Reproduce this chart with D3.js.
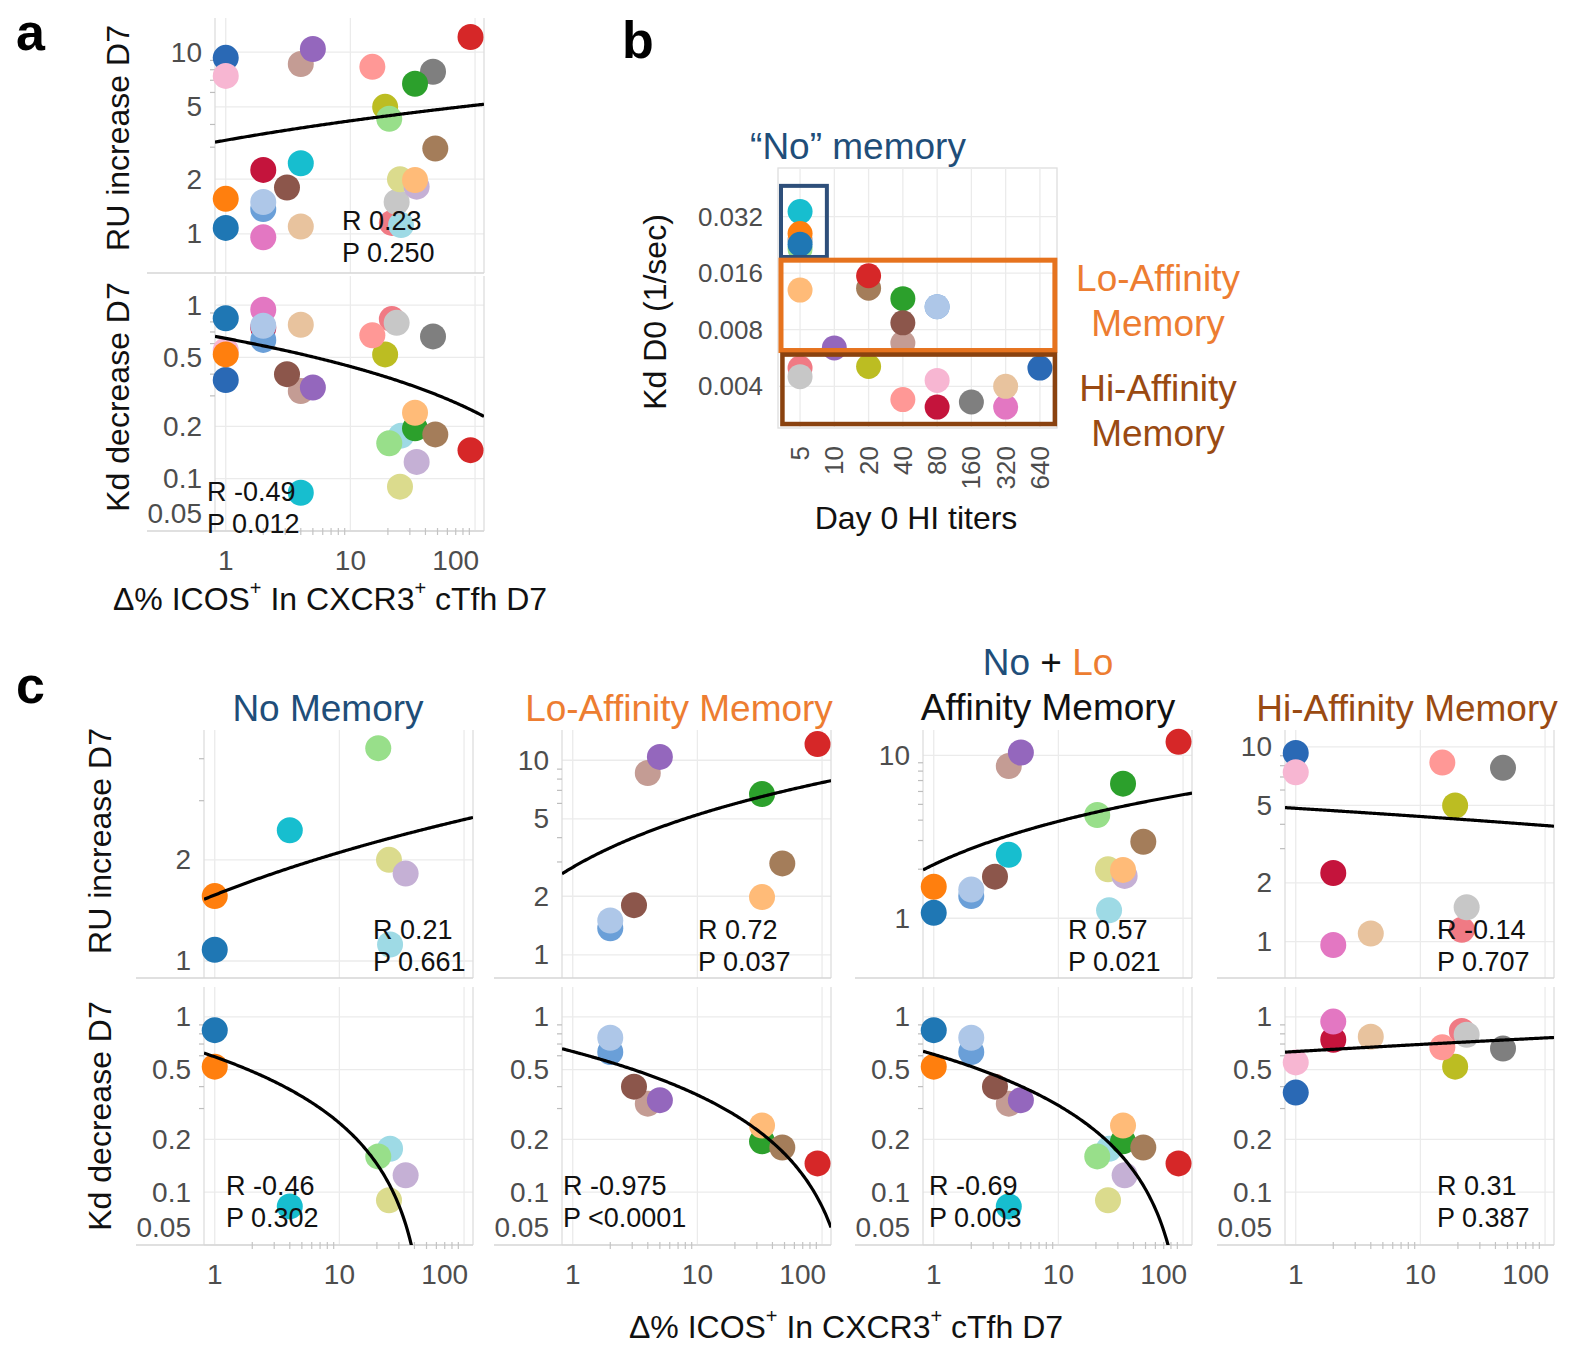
<!DOCTYPE html>
<html>
<head>
<meta charset="utf-8">
<script src="https://cdn.jsdelivr.net/npm/d3@7"></script>
<style>
  body { margin: 0; background: #fff; }
  text { font-family: "Liberation Sans", Arial, sans-serif; }
</style>
</head>
<body>
<div id="plot"></div>
<script>
// Donors, listed in drawing order (later ones sit on top)
const donors      = ["gray","olive","coral","lightcyan","lightgray","khaki","lavender","lightgreen","green","lightorange","tan","red","salmon","hiblue","pink","pinkbrown","purple","brown","crimson","magenta","medblue","lightblue","beige","cyan","orange","blue"];
const donorColors = ["#7f7f7f","#bcbd22","#f07a84","#9edae5","#c7c7c7","#dbdb8d","#c5b0d5","#98df8a","#2ca02c","#ffbb78","#a47d5a","#d62728","#ff9896","#2a69b5","#f7b6d2","#c49c94","#9467bd","#8c564b","#c4143c","#e377c2","#6a9fd8","#aec7e8","#e8c39e","#17becf","#ff7f0e","#1f77b4"];
const memoryGroup = ["Hi","Hi","Hi","No","Hi","No","No","No","Lo","Lo","Lo","Lo","Hi","Hi","Hi","Lo","Lo","Lo","Hi","Hi","Lo","Lo","Hi","No","No","No"];
const icosDelta   = [46, 19, 21.5, 25.5, 23.5, 25, 34, 20.5, 33, 33, 48, 92, 15, 1, 1, 4, 5, 3.1, 2, 2, 2, 2, 4, 4, 1, 1];
const ruIncrease  = [7.8, 5.0, 1.15, 1.12, 1.5, 2.0, 1.82, 4.3, 6.7, 1.98, 2.95, 12.1, 8.3, 9.3, 7.4, 8.6, 10.4, 1.8, 2.25, 0.96, 1.37, 1.5, 1.1, 2.45, 1.56, 1.08];
const kdDecrease  = [0.66, 0.52, 0.83, 0.177, 0.79, 0.09, 0.125, 0.16, 0.195, 0.24, 0.18, 0.146, 0.67, 0.37, 0.55, 0.32, 0.335, 0.40, 0.74, 0.94, 0.63, 0.76, 0.77, 0.083, 0.52, 0.84];
const kdDay0      = [0.0033, 0.0051, 0.0050, 0.024, 0.0045, 0.024, 0.024, 0.0215, 0.0117, 0.013, 0.0133, 0.0155, 0.0034, 0.0050, 0.0043, 0.0068, 0.0064, 0.0087, 0.0031, 0.0031, 0.0106, 0.0106, 0.0040, 0.034, 0.026, 0.0228];
const hiTiter     = [160, 20, 5, 5, 5, 5, 5, 5, 40, 5, 20, 20, 40, 640, 80, 40, 10, 40, 80, 320, 80, 80, 320, 5, 5, 5];

// Tick labels
const xTicks      = [1, 10, 100];
const ruTicksAll  = [1, 2, 5, 10];
const kdTicks     = [0.05, 0.1, 0.2, 0.5, 1];
const titerTicks  = [5, 10, 20, 40, 80, 160, 320, 640];
const kd0Ticks    = [0.004, 0.008, 0.016, 0.032];

// Correlation labels
const statsA = { ru: ["R 0.23", "P 0.250"], kd: ["R -0.49", "P 0.012"] };
const statsC = {
  ru: [["R 0.21","P 0.661"], ["R 0.72","P 0.037"], ["R 0.57","P 0.021"], ["R -0.14","P 0.707"]],
  kd: [["R -0.46","P 0.302"], ["R -0.975","P <0.0001"], ["R -0.69","P 0.003"], ["R 0.31","P 0.387"]]
};

const NAVY = "#1f4e79", ORANGE = "#ed7d31", BROWN = "#9a4a12";
const TICK_COL = "#4d4d4d", GRID = "#ebebeb", FRAME = "#dedede";

const svg = d3.select("#plot").append("svg")
  .attr("width", 1575).attr("height", 1348);
svg.append("rect").attr("width", 1575).attr("height", 1348).attr("fill", "#fff");

const allIdx = d3.range(donors.length);
let clipId = 0;

// least squares fit of y on log10(x)
function fitLogX(idx, yVals) {
  const u = idx.map(i => Math.log10(icosDelta[i]));
  const v = idx.map(i => yVals[i]);
  const mu = d3.mean(u), mv = d3.mean(v);
  let sxy = 0, sxx = 0;
  u.forEach((d, k) => { sxy += (d - mu) * (v[k] - mv); sxx += (d - mu) * (d - mu); });
  const b = sxy / sxx;
  return { a: mv - b * mu, b: b };
}

function facet(o) {
  const g = svg.append("g");
  const x = d3.scaleLog().domain([0.82, 118]).range([o.x0, o.x0 + 269]);
  const y = d3.scaleLog().domain(o.yDomain).range([o.y1, o.y0]);
  const x1 = o.x0 + 269;

  const cid = "clip" + (clipId++);
  g.append("clipPath").attr("id", cid).append("rect")
    .attr("x", o.x0).attr("y", o.y0).attr("width", 269).attr("height", o.y1 - o.y0);

  // grid
  g.selectAll(".vg").data(xTicks).join("line")
    .attr("x1", d => x(d)).attr("x2", d => x(d)).attr("y1", o.y0).attr("y2", o.y1)
    .attr("stroke", GRID).attr("stroke-width", 1.3);
  g.selectAll(".hg").data(o.yTicks).join("line")
    .attr("x1", o.x0).attr("x2", x1).attr("y1", d => y(d)).attr("y2", d => y(d))
    .attr("stroke", GRID).attr("stroke-width", 1.3);
  // frame
  g.append("line").attr("x1", o.x0).attr("x2", o.x0).attr("y1", o.y0).attr("y2", o.y1)
    .attr("stroke", FRAME).attr("stroke-width", 1.3);
  g.append("line").attr("x1", x1).attr("x2", x1).attr("y1", o.y0).attr("y2", o.y1)
    .attr("stroke", FRAME).attr("stroke-width", 1.3);
  g.append("line").attr("x1", o.x0 - 68).attr("x2", x1).attr("y1", o.y1).attr("y2", o.y1)
    .attr("stroke", "#d6d6d6").attr("stroke-width", 1.5);

  // minor log ticks on y
  g.selectAll(".my").data(o.yMinor).join("line")
    .attr("x1", o.x0 - 5).attr("x2", o.x0).attr("y1", d => y(d)).attr("y2", d => y(d))
    .attr("stroke", "#bdbdbd").attr("stroke-width", 1.2);

  // y tick labels
  g.selectAll(".yl").data(o.yTicks).join("text")
    .attr("x", o.x0 - 13)
    .attr("y", d => y(d) - (d === 0.05 ? 18 : 0))
    .attr("text-anchor", "end").attr("dominant-baseline", "central")
    .attr("font-size", 28).attr("fill", TICK_COL)
    .text(d => d);

  if (o.xAxis) {
    const minor = [];
    [1, 10].forEach(dec => d3.range(2, 10).forEach(m => minor.push(dec * m)));
    g.selectAll(".mx").data(minor).join("line")
      .attr("x1", d => x(d)).attr("x2", d => x(d)).attr("y1", o.y1 - 3).attr("y2", o.y1 + 4)
      .attr("stroke", "#c4c4c4").attr("stroke-width", 1.2);
    g.selectAll(".xl").data(xTicks).join("text")
      .attr("x", d => d === 100 ? x(d) + 4 : x(d))
      .attr("y", o.y1 + 39)
      .attr("text-anchor", d => d === 100 ? "end" : "middle")
      .attr("font-size", 28).attr("fill", TICK_COL)
      .text(d => d);
  }

  // points
  g.selectAll(".pt").data(o.idx).join("circle")
    .attr("cx", i => x(icosDelta[i]))
    .attr("cy", i => y(o.yVals[i]))
    .attr("r", 13)
    .attr("fill", i => donorColors[i]);

  // fit line
  const fit = fitLogX(o.idx, o.yVals);
  const xs = d3.range(0, 201).map(k => 0.82 * Math.pow(118 / 0.82, k / 200));
  const pts = xs.map(v => [v, fit.a + fit.b * Math.log10(v)]).filter(p => p[1] > 0.01);
  g.append("path")
    .attr("clip-path", `url(#${cid})`)
    .attr("d", d3.line().x(p => x(p[0])).y(p => y(p[1]))(pts))
    .attr("fill", "none").attr("stroke", "#000").attr("stroke-width", 3.2);

  // stats
  g.append("text").attr("x", o.statX).attr("y", o.statY)
    .attr("font-size", 27).attr("fill", "#111").text(o.stats[0]);
  g.append("text").attr("x", o.statX).attr("y", o.statY + 32)
    .attr("font-size", 27).attr("fill", "#111").text(o.stats[1]);
}

function axisTitle(x, y, rotate) {
  const t = svg.append("text").attr("font-size", 32).attr("fill", "#111")
    .attr("text-anchor", "middle").attr("dominant-baseline", "central");
  if (rotate) t.attr("transform", `translate(${x},${y}) rotate(-90)`);
  else t.attr("x", x).attr("y", y);
  return t;
}

function icosTitle(x, y) {
  const t = axisTitle(x, y, false);
  t.append("tspan").text("Δ% ICOS");
  t.append("tspan").attr("font-size", 20).attr("dy", -11).text("+");
  t.append("tspan").attr("dy", 11).text(" In CXCR3");
  t.append("tspan").attr("font-size", 20).attr("dy", -11).text("+");
  t.append("tspan").attr("dy", 11).text(" cTfh D7");
}

function panelLetter(s, x, y) {
  svg.append("text").attr("x", x).attr("y", y).attr("font-size", 52)
    .attr("font-weight", "bold").attr("fill", "#000").text(s);
}

// ---------- panel a ----------
panelLetter("a", 16, 50);
facet({ x0: 215, y0: 18, y1: 273, yDomain: [0.61, 15.4], yTicks: ruTicksAll,
  yMinor: [3, 4, 6, 7, 8, 9], idx: allIdx, yVals: ruIncrease,
  stats: statsA.ru, statX: 342, statY: 230, xAxis: false });
facet({ x0: 215, y0: 276, y1: 531, yDomain: [0.05, 1.47], yTicks: kdTicks,
  yMinor: [0.3, 0.4, 0.6, 0.7, 0.8, 0.9], idx: allIdx, yVals: kdDecrease,
  stats: statsA.kd, statX: 207, statY: 501, xAxis: true });
axisTitle(118, 138, true).text("RU increase D7");
axisTitle(118, 397, true).text("Kd decrease D7");
icosTitle(330, 599);

// ---------- panel b ----------
panelLetter("b", 622, 58);
const bx = d3.scaleLog().base(2).domain([3.2, 904]).range([778, 1057]);
const by = d3.scaleLog().base(2).domain([0.0024, 0.058]).range([428, 168]);
const gb = svg.append("g");
gb.append("rect").attr("x", 778).attr("y", 168).attr("width", 279).attr("height", 260)
  .attr("fill", "none").attr("stroke", FRAME).attr("stroke-width", 1.3);
gb.selectAll(".bv").data(titerTicks).join("line")
  .attr("x1", d => bx(d)).attr("x2", d => bx(d)).attr("y1", 168).attr("y2", 428)
  .attr("stroke", GRID).attr("stroke-width", 1.3);
gb.selectAll(".bh").data(kd0Ticks).join("line")
  .attr("x1", 778).attr("x2", 1057).attr("y1", d => by(d)).attr("y2", d => by(d))
  .attr("stroke", GRID).attr("stroke-width", 1.3);
gb.selectAll(".byl").data(kd0Ticks).join("text")
  .attr("x", 763).attr("y", d => by(d))
  .attr("text-anchor", "end").attr("dominant-baseline", "central")
  .attr("font-size", 26).attr("fill", TICK_COL).text(d => d);
gb.selectAll(".bxl").data(titerTicks).join("text")
  .attr("transform", d => `translate(${bx(d)},446) rotate(-90)`)
  .attr("text-anchor", "end").attr("dominant-baseline", "central")
  .attr("font-size", 26).attr("fill", TICK_COL).text(d => d);
gb.selectAll(".bpt").data(allIdx).join("circle")
  .attr("cx", i => bx(hiTiter[i])).attr("cy", i => by(kdDay0[i]))
  .attr("r", 12.5).attr("fill", i => donorColors[i]);

// memory boxes, in data units
const boxes = [
  { x: [3.4, 8.6], y: [0.0195, 0.0466], color: "#2e4f7a", w: 4 },
  { x: [3.4, 866], y: [0.0062, 0.01875], color: "#e6731e", w: 5 },
  { x: [3.5, 866], y: [0.00252, 0.0059], color: "#8a420f", w: 4.5 }
];
gb.selectAll(".box").data(boxes).join("rect")
  .attr("x", d => bx(d.x[0])).attr("y", d => by(d.y[1]))
  .attr("width", d => bx(d.x[1]) - bx(d.x[0]))
  .attr("height", d => by(d.y[0]) - by(d.y[1]))
  .attr("fill", "none").attr("stroke", d => d.color).attr("stroke-width", d => d.w);

const bLabel = (txt, x, y, col) => svg.append("text").attr("x", x).attr("y", y)
  .attr("text-anchor", "middle").attr("font-size", 37).attr("fill", col).text(txt);
bLabel("\u201cNo\u201d memory", 858, 159, NAVY);
bLabel("Lo-Affinity", 1158, 291, ORANGE);
bLabel("Memory", 1158, 336, ORANGE);
bLabel("Hi-Affinity", 1158, 401, BROWN);
bLabel("Memory", 1158, 446, BROWN);
axisTitle(655, 312, true).text("Kd D0 (1/sec)");
axisTitle(916, 518, false).text("Day 0 HI titers");

// ---------- panel c ----------
panelLetter("c", 16, 703);
const groupsC = [["No"], ["Lo"], ["No", "Lo"], ["Hi"]];
const colX0 = [204, 562, 923, 1285];
const ruDomains = [[0.89, 4.87], [0.76, 14.3], [0.43, 14.3], [0.65, 12.2]];
const ruTicksC = [[1, 2], [1, 2, 5, 10], [1, 10], [1, 2, 5, 10]];
const ruMinorC = [[3, 4], [3, 4, 6, 7, 8, 9], [2, 3, 4, 5, 6, 7, 8, 9], [3, 4, 6, 7, 8, 9]];
const statDx = [[169, 136, 145, 152], [22, 1, 6, 152]];

groupsC.forEach((grp, c) => {
  const idx = allIdx.filter(i => grp.includes(memoryGroup[i]));
  facet({ x0: colX0[c], y0: 730, y1: 978, yDomain: ruDomains[c], yTicks: ruTicksC[c],
    yMinor: ruMinorC[c], idx: idx, yVals: ruIncrease,
    stats: statsC.ru[c], statX: colX0[c] + statDx[0][c], statY: 939, xAxis: false });
  facet({ x0: colX0[c], y0: 987, y1: 1245, yDomain: [0.05, 1.48], yTicks: kdTicks,
    yMinor: [0.3, 0.4, 0.6, 0.7, 0.8, 0.9], idx: idx, yVals: kdDecrease,
    stats: statsC.kd[c], statX: colX0[c] + statDx[1][c], statY: 1195, xAxis: true });
});

const colTitle = (x, y, col) => svg.append("text").attr("x", x).attr("y", y)
  .attr("text-anchor", "middle").attr("font-size", 37).attr("fill", col);
colTitle(328, 721, NAVY).text("No Memory");
colTitle(679, 721, ORANGE).text("Lo-Affinity Memory");
const nl = colTitle(1048, 675, "#111");
nl.append("tspan").attr("fill", NAVY).text("No");
nl.append("tspan").attr("fill", "#111").text(" + ");
nl.append("tspan").attr("fill", ORANGE).text("Lo");
colTitle(1048, 720, "#111").text("Affinity Memory");
colTitle(1407, 721, BROWN).text("Hi-Affinity Memory");

axisTitle(100, 841, true).text("RU increase D7");
axisTitle(100, 1116, true).text("Kd decrease D7");
icosTitle(846, 1327);
</script>
</body>
</html>
